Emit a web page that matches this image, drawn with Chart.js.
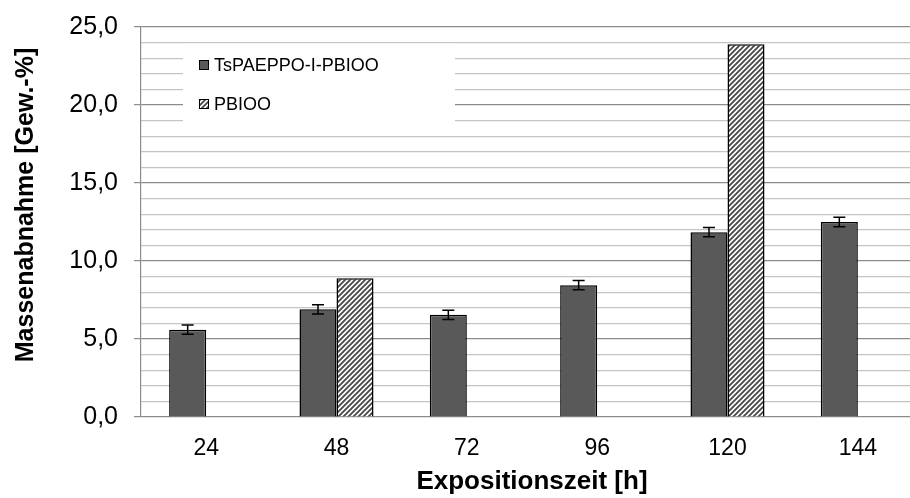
<!DOCTYPE html>
<html>
<head>
<meta charset="utf-8">
<script src="https://cdn.jsdelivr.net/npm/chart.js@4"></script>
<style>
  html, body { margin: 0; padding: 0; background: #fff; }
  #wrap { width: 910px; height: 498px; overflow: hidden; }
</style>
</head>
<body>
<div id="wrap"><canvas id="massChart" width="930" height="498"></canvas></div>
<script>
const hours = ['24', '48', '72', '96', '120', '144'];
const tsValues = [5.6, 6.9, 6.55, 8.45, 11.85, 12.5];
const tsErrors = [0.3, 0.3, 0.3, 0.3, 0.3, 0.3];
const pbiooValues = [null, 8.9, null, null, 23.9, null];
const yTicks = [0, 5, 10, 15, 20, 25];

const FONT = '"Liberation Sans", Arial, sans-serif';

// diagonal hatch fill for the PBIOO bars
function makeHatch() {
    const c = document.createElement('canvas');
    c.width = 5;
    c.height = 5;
    const g = c.getContext('2d');
    g.fillStyle = '#ffffff';
    g.fillRect(0, 0, 5, 5);
    g.strokeStyle = '#4a4a4a';
    g.lineWidth = 1.9;
    g.beginPath();
    g.moveTo(-1, 6); g.lineTo(6, -1);
    g.moveTo(-1, 1); g.lineTo(1, -1);
    g.moveTo(4, 6); g.lineTo(6, 4);
    g.stroke();
    return g.createPattern(c, 'repeat');
}

const ctx = document.getElementById('massChart').getContext('2d');
const hatch = makeHatch();

const errorBars = {
    id: 'errorBars',
    afterDatasetsDraw(chart) {
        const meta = chart.getDatasetMeta(0);
        const y = chart.scales.y;
        const c = chart.ctx;
        c.save();
        c.strokeStyle = '#000';
        c.lineWidth = 1.5;
        meta.data.forEach((bar, i) => {
            const top = y.getPixelForValue(tsValues[i] + tsErrors[i]);
            const bot = y.getPixelForValue(tsValues[i] - tsErrors[i]);
            c.beginPath();
            c.moveTo(bar.x, top); c.lineTo(bar.x, bot);
            c.moveTo(bar.x - 6, top); c.lineTo(bar.x + 6, top);
            c.moveTo(bar.x - 6, bot); c.lineTo(bar.x + 6, bot);
            c.stroke();
        });
        c.restore();
    }
};

// legend box inside the plot and the rotated y title
const decorations = {
    id: 'decorations',
    afterDraw(chart) {
        const c = chart.ctx;
        c.save();
        c.fillStyle = '#fff';
        c.fillRect(183, 43.5, 272, 85);
        c.font = '18px ' + FONT;
        c.textBaseline = 'middle';
        chart.data.datasets.forEach((ds, i) => {
            const cy = 65 + i * 39;
            c.fillStyle = ds.backgroundColor;
            c.fillRect(199.5, cy - 4.5, 9, 9);
            c.strokeStyle = '#000';
            c.lineWidth = 1;
            c.strokeRect(199.5, cy - 4.5, 9, 9);
            c.fillStyle = '#000';
            c.fillText(ds.label, 214, cy + 1);
        });
        c.translate(26, 205);
        c.rotate(-Math.PI / 2);
        c.font = 'bold 25px ' + FONT;
        c.textAlign = 'center';
        c.textBaseline = 'middle';
        c.fillText('Massenabnahme [Gew.-%]', 0, 0);
        c.restore();
    }
};

new Chart(ctx, {
    type: 'bar',
    data: {
        labels: hours,
        datasets: [{
            label: 'TsPAEPPO-I-PBIOO',
            data: tsValues,
            backgroundColor: '#595959',
            borderColor: '#000',
            borderWidth: 1.5,
            categoryPercentage: 0.568,
            barPercentage: 1
        }, {
            label: 'PBIOO',
            data: pbiooValues,
            backgroundColor: hatch,
            borderColor: '#000',
            borderWidth: 1.5,
            categoryPercentage: 0.568,
            barPercentage: 1
        }]
    },
    options: {
        responsive: false,
        animation: false,
        layout: {
            padding: { top: 27, right: 7, left: 0, bottom: 0 }
        },
        scales: {
            x: {
                afterFit: scale => {
                    scale.height = 81;
                    scale.paddingLeft = 0;
                    scale.paddingRight = 0;
                },
                grid: { display: false, drawTicks: false },
                border: { display: false },
                ticks: {
                    color: '#000',
                    padding: 18,
                    font: { family: FONT, size: 23 }
                },
                title: {
                    display: true,
                    text: 'Expositionszeit [h]',
                    color: '#000',
                    font: { family: FONT, size: 26, weight: 'bold' },
                    padding: { top: 0, bottom: 1 }
                }
            },
            y: {
                min: 0,
                max: 25,
                afterFit: scale => {
                    scale.width = 141;
                    scale.paddingTop = 0;
                    scale.paddingBottom = 0;
                },
                ticks: {
                    stepSize: 1,
                    autoSkip: false,
                    color: '#000',
                    padding: 16,
                    font: { family: FONT, size: 25 },
                    callback: v => yTicks.includes(v) ? v.toFixed(1).replace('.', ',') : ''
                },
                grid: {
                    color: c => c.tick && c.tick.value % 5 === 0 ? '#8c8c8c' : '#c4c4c4',
                    tickColor: c => c.tick && c.tick.value % 5 === 0 ? '#8c8c8c' : 'rgba(0,0,0,0)',
                    tickLength: 7,
                    lineWidth: 1.2
                },
                border: { color: '#8c8c8c', width: 1.2 }
            }
        },
        plugins: {
            legend: { display: false },
            tooltip: { enabled: false }
        }
    },
    plugins: [errorBars, decorations]
});
</script>
</body>
</html>
